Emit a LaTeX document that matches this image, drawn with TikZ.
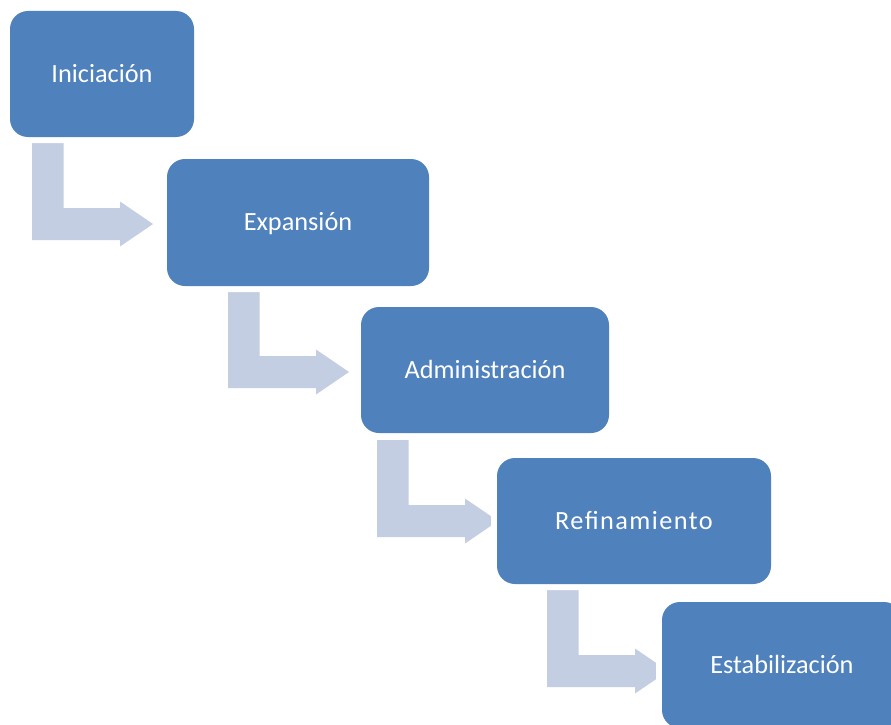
\documentclass[tikz,border=0pt]{standalone}
\usepackage{fontspec}
\setmainfont{Carlito}
\definecolor{stageblue}{RGB}{79,129,189}
\definecolor{flowtint}{RGB}{195,206,227}
\tikzset{
  stage/.style={
    rectangle, rounded corners=18pt, fill=stageblue, text=white,
    font=\fontsize{26.3}{30}\selectfont,
    text height=16.9pt, text depth=0pt, inner sep=0pt,
    preaction={draw=white, line width=12pt}
  },
  % bent block arrow: vertical shaft going down, then right into a head
  bentarrow/.pic={
    \fill[flowtint] (0,0) -- (31.5,0) -- (31.5,65) -- (88,65) -- (88,58.5)
      -- (121,81) -- (88,103.5) -- (88,97) -- (0,97) -- cycle;
  }
}
\begin{document}
\begin{tikzpicture}[x=1pt,y=-1pt]
  \useasboundingbox (0,0) rectangle (891,725);
  \clip (0,0) rectangle (891,725);
  \fill[white] (0,0) rectangle (891,725);

  % connecting arrows (drawn first, so the boxes cover their tips)
  \pic (a1) at (32,143) {bentarrow};
  \pic (a2) at (228,291) {bentarrow};
  \pic (a3) at (377,440) {bentarrow};
  \pic (a4) at (547,590) {bentarrow};

  % stages
  \node[stage, minimum width=184pt, minimum height=126pt] (ini) at (102,74) {Iniciación};
  \node[stage, minimum width=262pt, minimum height=127pt] (exp) at (298,222.5) {Expansión};
  \node[stage, minimum width=248pt, minimum height=126pt] (adm) at (485,370) {Administración};
  \node[stage, minimum width=274pt, minimum height=126pt] (ref) at (634,521) {\addfontfeatures{LetterSpace=5.5}Refinamiento};
  \node[stage, minimum width=240pt, minimum height=126pt] (est) at (782,665) {Estabilización};
\end{tikzpicture}
\end{document}
